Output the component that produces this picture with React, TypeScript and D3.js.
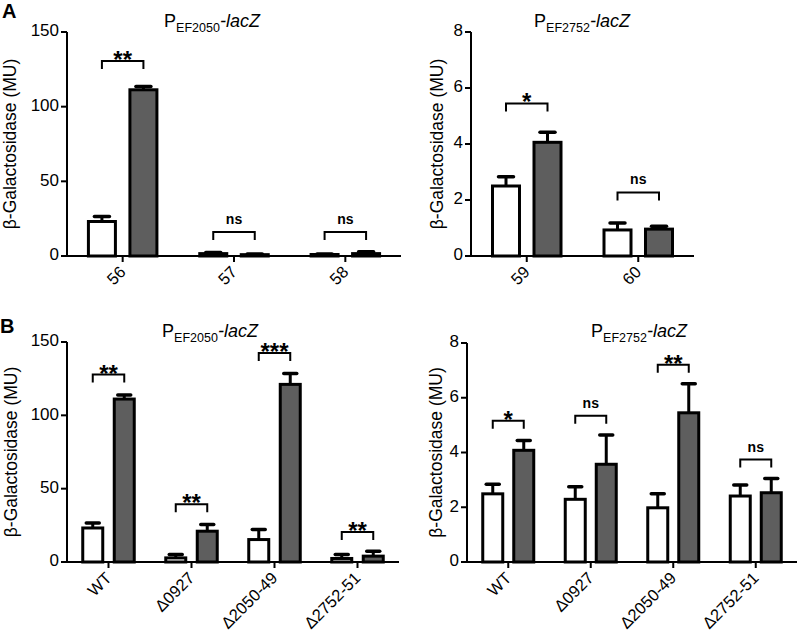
import React from "react";
import * as d3 from "d3";

// ---- Data ----
const catsA1 = ["56", "57", "58"];
const whiteA1 = [23.1, 1.6, 1.0];
const whiteErrA1 = [3.4, 0.8, 0.4];
const grayA1 = [111.3, 0.9, 1.6];
const grayErrA1 = [2.2, 0.5, 1.2];
const sigA1 = ["**", "ns", "ns"];
const brA1 = [130.5, 16, 16];
const ticksA1 = [0, 50, 100, 150];

const catsA2 = ["59", "60"];
const whiteA2 = [2.5, 0.93];
const whiteErrA2 = [0.33, 0.25];
const grayA2 = [4.06, 0.96];
const grayErrA2 = [0.36, 0.1];
const sigA2 = ["*", "ns"];
const brA2 = [5.45, 2.27];
const ticksA2 = [0, 2, 4, 6, 8];

const catsB = ["WT", "Δ0927", "Δ2050-49", "Δ2752-51"];
const whiteB1 = [23.2, 2.8, 15.3, 2.4];
const whiteErrB1 = [3.4, 2.3, 6.8, 2.7];
const grayB1 = [111.1, 21, 121.1, 4];
const grayErrB1 = [2.8, 4.5, 7.5, 3.4];
const sigB1 = ["**", "**", "***", "**"];
const brB1 = [127.8, 39.4, 142.5, 20.4];

const whiteB2 = [2.49, 2.29, 1.98, 2.41];
const whiteErrB2 = [0.35, 0.46, 0.51, 0.4];
const grayB2 = [4.08, 3.57, 5.45, 2.53];
const grayErrB2 = [0.36, 1.07, 1.06, 0.52];
const sigB2 = ["*", "ns", "**", "ns"];
const brB2 = [5.16, 5.34, 7.21, 3.74];

const FONT = "'Liberation Sans', Arial, Helvetica, sans-serif";
const GRAY = "#5e5e5e";

type PanelProps = {
  x0: number; x1: number; y0: number; y1: number; yMax: number;
  ticks: number[]; cats: string[];
  white: number[]; whiteErr: number[]; gray: number[]; grayErr: number[];
  sig: string[]; br: number[];
  barW: number; sep: number; cap: number;
  sub: string; titleX: number; titleY: number;
  labelX: number;
};

function Panel(p: PanelProps) {
  const x = d3.scaleBand<string>().domain(p.cats).range([p.x0, p.x1]);
  const y = d3.scaleLinear().domain([0, p.yMax]).range([p.y0, p.y1]);
  const bw = x.bandwidth();
  const series = [
    { vals: p.white, errs: p.whiteErr, fill: "#ffffff", off: -p.sep / 2 },
    { vals: p.gray, errs: p.grayErr, fill: GRAY, off: p.sep / 2 },
  ];
  return (
    <g>
      {/* title */}
      <text x={p.titleX} y={p.titleY} textAnchor="middle" fontFamily={FONT} fontSize={18} fill="#000">
        P<tspan fontSize={12.5} dy={5}>{p.sub}</tspan>
        <tspan dy={-5} fontStyle="italic">-lacZ</tspan>
      </text>
      {/* y label */}
      <text
        transform={`translate(${p.labelX},${(p.y0 + p.y1) / 2}) rotate(-90)`}
        textAnchor="middle" dominantBaseline="middle"
        fontFamily={FONT} fontSize={17.5} fill="#000"
      >β-Galactosidase (MU)</text>
      {/* bars */}
      {series.map((s, si) =>
        p.cats.map((c, i) => {
          const cx = (x(c) as number) + bw / 2 + s.off;
          const top = y(s.vals[i]);
          const et = y(s.vals[i] + s.errs[i]);
          return (
            <g key={`${si}-${i}`}>
              <line x1={cx} x2={cx} y1={top} y2={et} stroke="#000" strokeWidth={3} />
              <line x1={cx - p.cap / 2} x2={cx + p.cap / 2} y1={et} y2={et} stroke="#000" strokeWidth={3.5} strokeLinecap="round" />
              <rect x={cx - p.barW / 2} y={top} width={p.barW} height={p.y0 - top}
                fill={s.fill} stroke="#000" strokeWidth={3} />
            </g>
          );
        })
      )}
      {/* axes */}
      <line x1={p.x0} x2={p.x1} y1={p.y0} y2={p.y0} stroke="#000" strokeWidth={2} />
      <line x1={p.x0} x2={p.x0} y1={p.y0 + 1} y2={p.y1} stroke="#000" strokeWidth={2} />
      {p.ticks.map((t) => (
        <g key={t}>
          <line x1={p.x0 - 6} x2={p.x0} y1={y(t)} y2={y(t)} stroke="#000" strokeWidth={2} />
          <text x={p.x0 - 8} y={y(t)} textAnchor="end" dominantBaseline="middle"
            fontFamily={FONT} fontSize={17} fill="#000">{t}</text>
        </g>
      ))}
      {p.cats.map((c) => {
        const cx = (x(c) as number) + bw / 2;
        return (
          <g key={c}>
            <line x1={cx} x2={cx} y1={p.y0} y2={p.y0 + 6} stroke="#000" strokeWidth={2} />
            <text transform={`translate(${cx + 1},${p.y0 + 14}) rotate(-45)`} textAnchor="end"
              dominantBaseline="middle" fontFamily={FONT} fontSize={16.5} fill="#000">{c}</text>
          </g>
        );
      })}
      {/* significance brackets */}
      {p.cats.map((c, i) => {
        const cx = (x(c) as number) + bw / 2;
        const xa = cx - p.sep / 2;
        const xb = cx + p.sep / 2;
        const by = y(p.br[i]);
        const isNs = p.sig[i] === "ns";
        return (
          <g key={`b${i}`}>
            <path d={`M${xa},${by + 8}V${by}H${xb}V${by + 8}`} fill="none" stroke="#000" strokeWidth={2} />
            <text x={(xa + xb) / 2} y={isNs ? by - 8 : by + 7} textAnchor="middle"
              fontFamily={FONT} fontWeight="bold" fontSize={isNs ? 14 : 24}
              fill="#000">{p.sig[i]}</text>
          </g>
        );
      })}
    </g>
  );
}

export default function App() {
  return (
    <svg width={800} height={632} style={{ position: "absolute", left: 0, top: 0, background: "#fff" }}>
      <rect width={800} height={632} fill="#fff" />
      <text x={2} y={18} fontFamily={FONT} fontWeight="bold" fontSize={20}>A</text>
      <text x={0} y={333} fontFamily={FONT} fontWeight="bold" fontSize={20}>B</text>
      <Panel x0={67} x1={401} y0={256} y1={32} yMax={150} ticks={ticksA1} cats={catsA1}
        white={whiteA1} whiteErr={whiteErrA1} gray={grayA1} grayErr={grayErrA1}
        sig={sigA1} br={brA1} barW={27} sep={41.5} cap={15}
        sub="EF2050" titleX={212} titleY={27} labelX={11} />
      <Panel x0={471} x1={694} y0={256} y1={32} yMax={8} ticks={ticksA2} cats={catsA2}
        white={whiteA2} whiteErr={whiteErrA2} gray={grayA2} grayErr={grayErrA2}
        sig={sigA2} br={brA2} barW={27} sep={41.5} cap={15}
        sub="EF2752" titleX={582} titleY={27} labelX={438} />
      <Panel x0={67} x1={399} y0={562} y1={342} yMax={150} ticks={ticksA1} cats={catsB}
        white={whiteB1} whiteErr={whiteErrB1} gray={grayB1} grayErr={grayErrB1}
        sig={sigB1} br={brB1} barW={20} sep={31.5} cap={13}
        sub="EF2050" titleX={210} titleY={337} labelX={12} />
      <Panel x0={467} x1={797} y0={562} y1={343} yMax={8} ticks={ticksA2} cats={catsB}
        white={whiteB2} whiteErr={whiteErrB2} gray={grayB2} grayErr={grayErrB2}
        sig={sigB2} br={brB2} barW={20} sep={31} cap={13}
        sub="EF2752" titleX={639} titleY={337} labelX={437} />
    </svg>
  );
}
